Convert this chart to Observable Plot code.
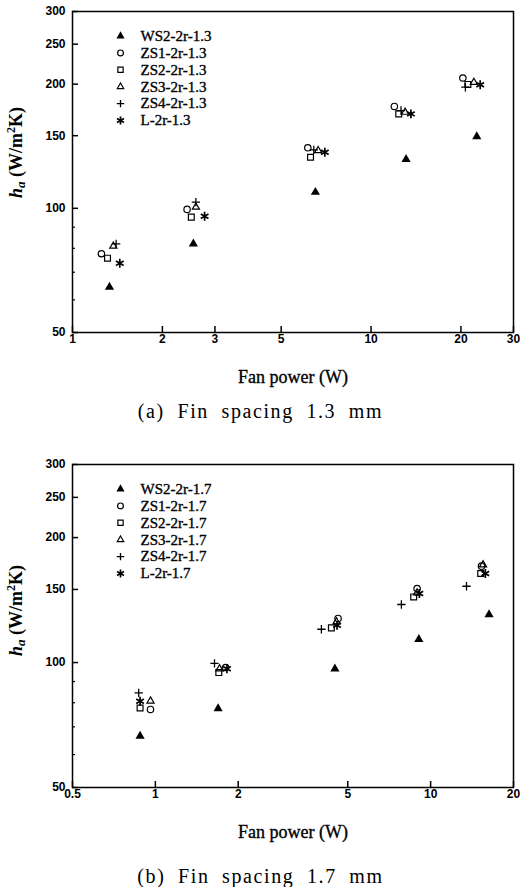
<!DOCTYPE html>
<html><head><meta charset="utf-8">
<script src="https://cdn.jsdelivr.net/npm/d3@7"></script>
<script src="https://cdn.jsdelivr.net/npm/@observablehq/plot@0.6"></script>
<style>
body{margin:0;background:#fff;}
#root{position:relative;width:521px;height:887px;overflow:hidden;background:#fff;}
.panel{position:absolute;left:0;}
.cap{position:absolute;left:0;width:521px;text-align:center;font-family:"Liberation Serif",serif;font-size:20px;letter-spacing:1.6px;word-spacing:6px;color:#000;line-height:1;}
</style></head><body><div id="root"></div>
<script>
// ---------- data ----------
const seriesA = ["WS2-2r-1.3", "ZS1-2r-1.3", "ZS2-2r-1.3", "ZS3-2r-1.3", "ZS4-2r-1.3", "L-2r-1.3"];
const seriesB = ["WS2-2r-1.7", "ZS1-2r-1.7", "ZS2-2r-1.7", "ZS3-2r-1.7", "ZS4-2r-1.7", "L-2r-1.7"];

// panel (a): fin spacing 1.3 mm — fan power (W) and h_a (W/m2K)
const powerA_WS2 = [1.33, 2.54, 6.51, 13.1, 22.6];
const haA_WS2    = [64.4, 82.0, 109.4, 131.4, 149.3];
const powerA_ZS1 = [1.25, 2.42, 6.14, 11.97, 20.3];
const haA_ZS1    = [77.6, 99.4, 140.2, 176.6, 207.0];
const powerA_ZS2 = [1.31, 2.50, 6.27, 12.38, 21.1];
const haA_ZS2    = [75.7, 95.2, 133.0, 169.4, 199.7];
const powerA_ZS3 = [1.37, 2.59, 6.65, 13.0, 22.1];
const haA_ZS3    = [81.0, 100.7, 138.0, 171.0, 202.0];
const powerA_ZS4 = [1.40, 2.59, 6.43, 12.6, 20.7];
const haA_ZS4    = [82.0, 103.5, 138.6, 172.6, 196.6];
const powerA_L   = [1.44, 2.77, 7.0, 13.6, 23.2];
const haA_L      = [73.6, 95.7, 136.8, 169.4, 199.3];

// panel (b): fin spacing 1.7 mm
const powerB_WS2 = [0.88, 1.69, 4.49, 9.06, 16.3];
const haB_WS2    = [66.5, 77.5, 96.6, 113.8, 130.5];
const powerB_ZS1 = [0.96, 1.80, 4.61, 8.93, 15.3];
const haB_ZS1    = [77.1, 97.3, 127.7, 150.8, 170.7];
const powerB_ZS2 = [0.88, 1.70, 4.36, 8.68, 15.2];
const haB_ZS2    = [77.7, 94.6, 121.2, 143.9, 163.9];
const powerB_ZS3 = [0.96, 1.71, 4.55, 8.93, 15.5];
const haB_ZS3    = [80.8, 96.6, 125.3, 147.2, 172.0];
const powerB_ZS4 = [0.87, 1.64, 4.01, 7.83, 13.5];
const haB_ZS4    = [84.5, 99.5, 120.3, 138.0, 152.7];
const powerB_L   = [0.88, 1.82, 4.57, 9.1, 15.8];
const haB_L      = [80.7, 96.6, 123.0, 146.7, 163.9];

// ticks
const xTicksA = [1, 2, 3, 5, 10, 20, 30];
const xTicksB = [0.5, 1, 2, 5, 10, 20];
const yTicks = [50, 100, 150, 200, 250, 300];
const yMinorTicks = [60, 70, 80, 90];

const captionA = "(a) Fin spacing 1.3 mm";
const captionB = "(b) Fin spacing 1.7 mm";
const xLabel = "Fan power (W)";

// ---------- styles (not data) ----------
const symbolStyles = [
  {symbol: "triangle", fill: "black", stroke: "none", r: 3.4, sw: 1},
  {symbol: "circle", fill: "none", stroke: "black", r: 3.2, sw: 1.2},
  {symbol: "square", fill: "none", stroke: "black", r: 3.3, sw: 1.2},
  {symbol: "triangle2", fill: "none", stroke: "black", r: 3.4, sw: 1.2},
  {symbol: "plus", fill: "none", stroke: "black", r: 2.8, sw: 1.3},
  {symbol: "asterisk", fill: "none", stroke: "black", r: 4.2, sw: 1.7}
];

function table(xs, ys) { return xs.map((x, i) => ({x, y: ys[i]})); }

const dataA = [
  table(powerA_WS2, haA_WS2), table(powerA_ZS1, haA_ZS1), table(powerA_ZS2, haA_ZS2),
  table(powerA_ZS3, haA_ZS3), table(powerA_ZS4, haA_ZS4), table(powerA_L, haA_L)
];
const dataB = [
  table(powerB_WS2, haB_WS2), table(powerB_ZS1, haB_ZS1), table(powerB_ZS2, haB_ZS2),
  table(powerB_ZS3, haB_ZS3), table(powerB_ZS4, haB_ZS4), table(powerB_L, haB_L)
];

function makePanel({data, series, xDomain, xTicks, frameH, top, capTop, caption, ylabShift}) {
  const mT = 11, mB = 56, mL = 72, mR = 8, W = 521;
  const plotW = W - mL - mR;
  const marks = [];
  // points
  data.forEach((pts, i) => {
    const s = symbolStyles[i];
    marks.push(Plot.dot(pts, {x: "x", y: "y", symbol: s.symbol, r: s.r, fill: s.fill, stroke: s.stroke, strokeWidth: s.sw}));
  });
  // legend inside frame
  series.forEach((name, i) => {
    const s = symbolStyles[i];
    const dy = 24.5 + 16.9 * i;
    marks.push(Plot.dot([name], {frameAnchor: "top-left", dx: 48, dy, symbol: s.symbol, r: s.r * 0.9, fill: s.fill, stroke: s.stroke, strokeWidth: s.sw}));
    marks.push(Plot.text([name], {frameAnchor: "top-left", dx: 68, dy, text: d => d, textAnchor: "start", lineAnchor: "middle",
      fontFamily: "Liberation Serif", fontSize: 15, fill: "black", stroke: "black", strokeWidth: 0.35}));
  });
  // inward ticks
  marks.push(Plot.tickX(xTicks, {x: d => d, insetTop: frameH - 6, stroke: "black", strokeWidth: 1.5}));
  marks.push(Plot.tickY(yTicks, {y: d => d, insetRight: plotW - 6, stroke: "black", strokeWidth: 1.5}));
  marks.push(Plot.tickY(yMinorTicks, {y: d => d, insetRight: plotW - 3, stroke: "black", strokeWidth: 1.2}));
  // tick labels
  marks.push(Plot.text(xTicks, {x: d => d, frameAnchor: "bottom", dy: 7, text: d => String(d), lineAnchor: "middle",
    fontFamily: "Liberation Sans", fontSize: 12, fontWeight: "bold", fill: "black"}));
  marks.push(Plot.text(yTicks, {y: d => d, frameAnchor: "left", dx: -7, text: d => String(d), textAnchor: "end", lineAnchor: "middle",
    fontFamily: "Liberation Sans", fontSize: 12, fontWeight: "bold", fill: "black"}));
  marks.push(Plot.text([xLabel], {frameAnchor: "bottom", dy: 45, text: d => d, lineAnchor: "middle",
    fontFamily: "Liberation Serif", fontSize: 18, fill: "black", stroke: "black", strokeWidth: 0.35}));
  marks.push(Plot.frame({stroke: "black", strokeWidth: 1.5}));

  const chart = Plot.plot({
    width: W, height: mT + frameH + mB,
    marginTop: mT, marginBottom: mB, marginLeft: mL, marginRight: mR,
    x: {type: "log", domain: xDomain, axis: null},
    y: {type: "log", domain: [50, 300], axis: null},
    style: {background: "white", color: "black", fontFamily: "Liberation Sans", overflow: "visible"},
    marks
  });
  // y-axis label with italic h, subscript a, superscript 2
  const svg = d3.select(chart);
  const cy = mT + frameH / 2 + ylabShift;
  const t = svg.append("text")
    .attr("transform", `translate(18,${cy}) rotate(-90)`)
    .attr("text-anchor", "middle")
    .attr("dominant-baseline", "middle")
    .attr("font-family", "Liberation Serif")
    .attr("font-size", 18)
    .attr("font-weight", "bold")
    .attr("fill", "black");
  t.append("tspan").attr("font-style", "italic").text("h");
  t.append("tspan").attr("font-style", "italic").attr("font-size", 13).attr("dy", 4).text("a");
  t.append("tspan").attr("dy", -4).text(" (W/m");
  t.append("tspan").attr("font-size", 12).attr("dy", -6).text("2");
  t.append("tspan").attr("dy", 6).text("K)");

  chart.classList.add("panel");
  chart.style.top = top + "px";
  const root = document.getElementById("root");
  root.appendChild(chart);
  const cap = document.createElement("div");
  cap.className = "cap";
  cap.style.top = capTop + "px";
  cap.textContent = caption;
  root.appendChild(cap);
}

makePanel({data: dataA, series: seriesA, xDomain: [1, 30], xTicks: xTicksA, frameH: 321, top: 0, capTop: 401, caption: captionA, ylabShift: -19});
makePanel({data: dataB, series: seriesB, xDomain: [0.5, 20], xTicks: xTicksB, frameH: 323, top: 453, capTop: 866, caption: captionB, ylabShift: -15});
</script></body></html>
